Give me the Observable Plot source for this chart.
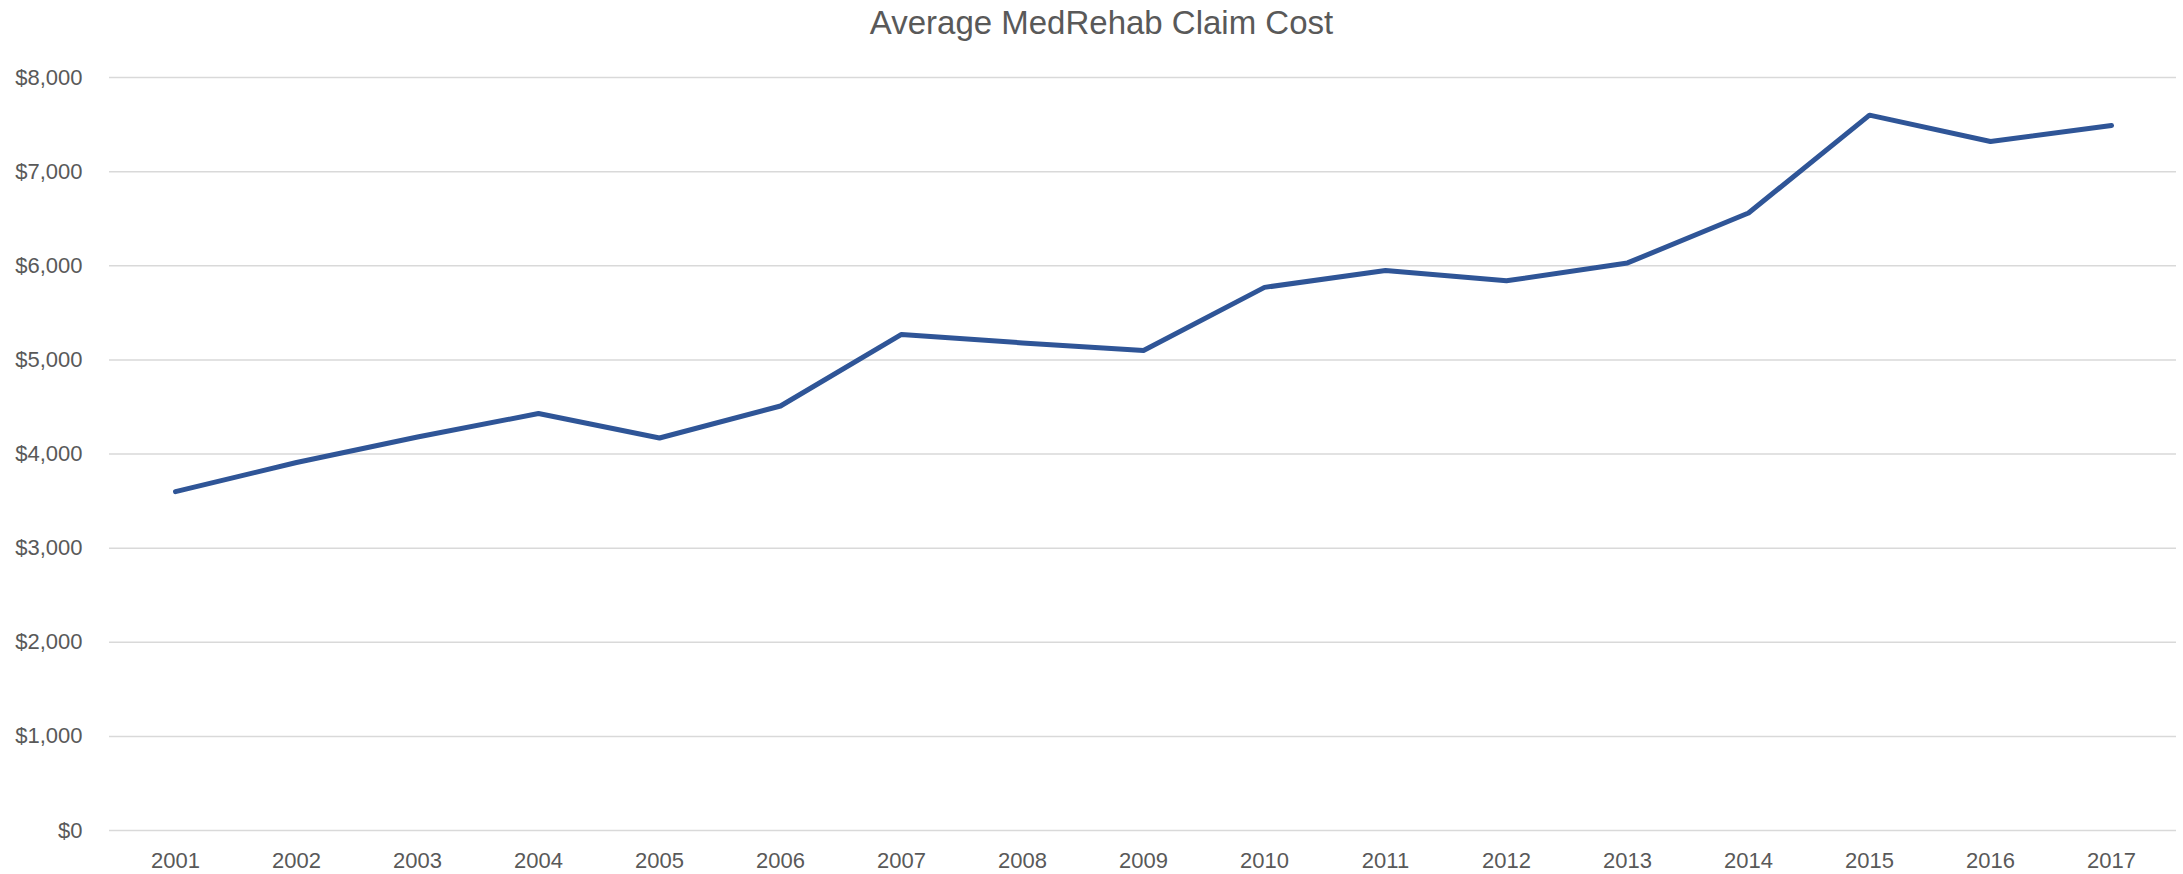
<!DOCTYPE html>
<html>
<head>
<meta charset="utf-8">
<script src="https://cdn.jsdelivr.net/npm/d3@7"></script>
<script src="https://cdn.jsdelivr.net/npm/@observablehq/plot@0.6"></script>
<style>
  html, body { margin: 0; padding: 0; background: #fff; }
  #title { height: 48px; line-height: 46px; text-align: center; padding-left: 20px; font-family: "Liberation Sans", Arial, sans-serif; font-size: 33px; color: #595959; white-space: nowrap; }
</style>
</head>
<body>
<div id="title">Average MedRehab Claim Cost</div>
<div id="chart"></div>
<script>
const years = ["2001","2002","2003","2004","2005","2006","2007","2008","2009","2010","2011","2012","2013","2014","2015","2016","2017"];
const cost = [3600, 3910, 4180, 4430, 4170, 4510, 5270, 5180, 5100, 5770, 5950, 5840, 6030, 6560, 7600, 7320, 7490];
const yTicks = [0, 1000, 2000, 3000, 4000, 5000, 6000, 7000, 8000];

const data = years.map((y, i) => ({year: y, cost: cost[i]}));

const chart = Plot.plot({
  width: 2183,
  height: 826,
  marginLeft: 109,
  marginRight: 7,
  marginTop: 29,
  marginBottom: 44,
  style: { fontFamily: "'Liberation Sans', Arial, sans-serif", fontSize: "22px", color: "#595959", background: "#fff" },
  x: { type: "point", domain: years, padding: 0.5 },
  y: { domain: [0, 8000] },
  marks: [
    Plot.ruleY(yTicks, { stroke: "#d9d9d9", strokeWidth: 1.5 }),
    Plot.axisY({ ticks: yTicks, tickFormat: d3.format("$,.0f"), tickSize: 0, tickPadding: 27, label: null, fontSize: 22 }),
    Plot.axisX({ tickSize: 0, tickPadding: 22, label: null, fontSize: 22 }),
    Plot.line(data, { x: "year", y: "cost", stroke: "#2f5597", strokeWidth: 5, strokeLinecap: "round", strokeLinejoin: "round" })
  ]
});
document.getElementById("chart").appendChild(chart);
</script>
</body>
</html>
